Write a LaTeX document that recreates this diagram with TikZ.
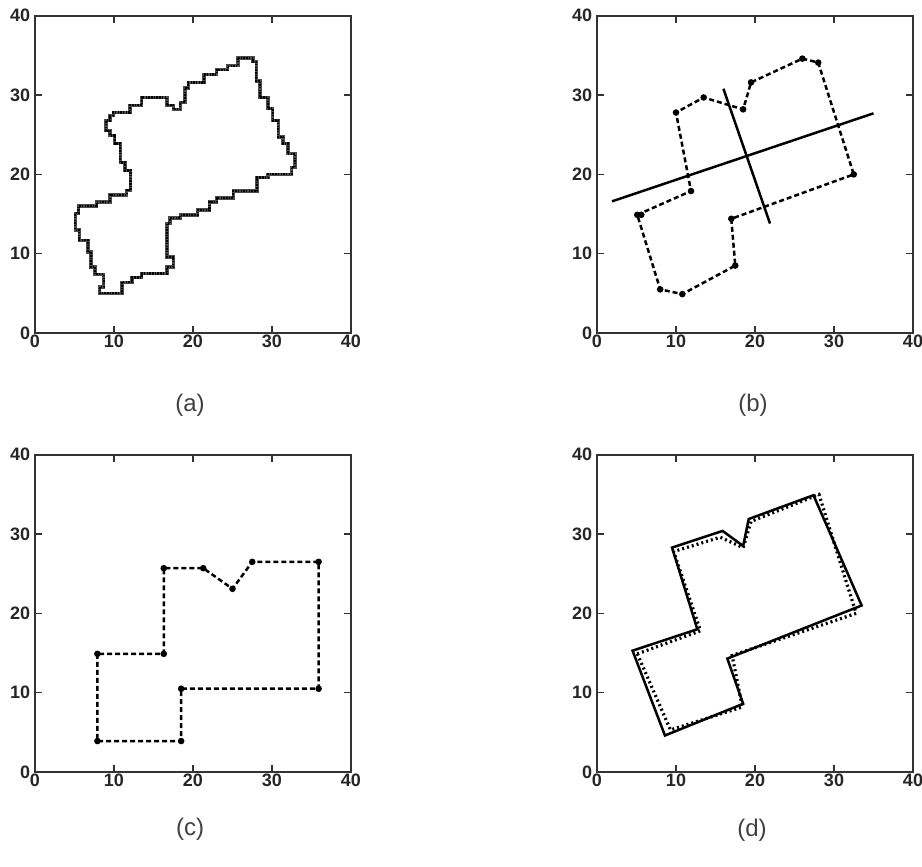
\documentclass[tikz,border=0pt]{standalone}
\usepackage{fontspec}
\setmainfont{Liberation Sans}

\begin{document}
\begin{tikzpicture}[
  x=1pt,y=1pt,
  frame/.style={line width=2pt,black!80},
  tick/.style={line width=1.6pt,black!80},
  ticklabel/.style={font=\fontsize{18}{18}\selectfont\bfseries,text=black!85,inner sep=1pt},
  caption/.style={font=\fontsize{24}{24}\selectfont,text=black!75},
  contour/.style={line width=3.4pt,black!70,line join=miter},
  contourdots/.style={line width=2.2pt,black,dash pattern=on 1.5pt off 1.2pt},
  poly/.style={line width=2.5pt,black,dash pattern=on 5pt off 3pt},
  fitline/.style={line width=2.5pt,black},
  outline/.style={line width=2.5pt,black,line join=miter},
  cornerdots/.style={line width=3.2pt,black,dash pattern=on 2pt off 3pt}
]
  \useasboundingbox (0,0) rectangle (922,867);

  % Axes boxes with inward ticks and bold tick labels.
  \foreach \nm/\px/\py in {a/35/534,b/597/534,c/35/95,d/597/95} {
    \begin{scope}[xshift=\px pt,yshift=\py pt,x=7.9pt,y=7.93pt]
      \draw[frame] (0,0) rectangle (40,40);
      \foreach \t in {10,20,30} {
        \draw[tick] (\t,0) -- ++(0,0.85) (\t,40) -- ++(0,-0.85);
        \draw[tick] (0,\t) -- ++(0.85,0) (40,\t) -- ++(-0.85,0);
      }
      \foreach \t in {0,10,20,30,40} {
        \node[ticklabel,anchor=north] (\nm-x\t) at (\t,-0.15) {\t};
        \node[ticklabel,anchor=east] (\nm-y\t) at (-0.45,\t) {\t};
      }
    \end{scope}
  }

  % (a) raw staircase contour.
  \begin{scope}[xshift=35pt,yshift=534pt,x=7.9pt,y=7.93pt]
    \def\stairs{(25.7,34.7) -- (27.6,34.7) -- (27.6,34.2) -- (28,34.2)
      -- (28,31.8) -- (28.5,31.8) -- (28.5,29.7) -- (29.5,29.7)
      -- (29.5,28.3) -- (30.1,28.3) -- (30.1,26.8) -- (30.8,26.8)
      -- (30.8,24.7) -- (31.4,24.7) -- (31.4,23.9) -- (32,23.9)
      -- (32,22.6) -- (32.9,22.6) -- (32.9,20.9) -- (32.5,20.9)
      -- (32.5,20) -- (29.5,20) -- (29.5,19.6) -- (28.1,19.6)
      -- (28.1,17.9) -- (25.1,17.9) -- (25.1,17) -- (23,17)
      -- (23,16.5) -- (22.1,16.5) -- (22.1,15.5) -- (20.6,15.5)
      -- (20.6,14.9) -- (18.4,14.9) -- (18.4,14.5) -- (17.1,14.5)
      -- (17.1,13.8) -- (16.7,13.8) -- (16.7,9.6) -- (17.5,9.6)
      -- (17.5,8.3) -- (16.7,8.3) -- (16.7,7.5) -- (13.5,7.5)
      -- (13.5,7) -- (12.3,7) -- (12.3,6.4) -- (11,6.4)
      -- (11,5) -- (8.2,5) -- (8.2,5.8) -- (8.7,5.8)
      -- (8.7,7.4) -- (7.6,7.4) -- (7.6,8.3) -- (7.1,8.3)
      -- (7.1,10.2) -- (6.7,10.2) -- (6.7,11.7) -- (5.6,11.7)
      -- (5.6,13) -- (5.1,13) -- (5.1,15.1) -- (5.5,15.1)
      -- (5.5,16) -- (7.8,16) -- (7.8,16.5) -- (9.5,16.5)
      -- (9.5,17.4) -- (11.6,17.4) -- (11.6,18) -- (12.1,18)
      -- (12.1,20.5) -- (11.4,20.5) -- (11.4,21.5) -- (10.8,21.5)
      -- (10.8,23.9) -- (10.1,23.9) -- (10.1,24.9) -- (9.5,24.9)
      -- (9.5,25.5) -- (9,25.5) -- (9,26.8) -- (9.5,26.8)
      -- (9.5,27.4) -- (9.9,27.4) -- (9.9,27.8) -- (12,27.8)
      -- (12,28.7) -- (13.5,28.7) -- (13.5,29.7) -- (16.7,29.7)
      -- (16.7,28.7) -- (17.5,28.7) -- (17.5,28.2) -- (18.4,28.2)
      -- (18.4,29.1) -- (19,29.1) -- (19,30.9) -- (19.4,30.9)
      -- (19.4,31.6) -- (21.4,31.6) -- (21.4,32.6) -- (23,32.6)
      -- (23,33.2) -- (24.4,33.2) -- (24.4,33.7) -- (25.7,33.7) -- cycle}
    \draw[contour] \stairs;
    \draw[contourdots] \stairs;
  \end{scope}

  % (b) polygon fit with its two principal axes.
  \begin{scope}[xshift=597pt,yshift=534pt,x=7.9pt,y=7.93pt]
    \draw[poly] (5.1,14.9) -- (11.9,17.9) -- (10,27.8) -- (13.5,29.7)
      -- (18.5,28.2) -- (19.5,31.6) -- (26,34.6) -- (28,34.1)
      -- (32.5,20) -- (17,14.4) -- (17.5,8.5) -- (10.8,4.9)
      -- (8,5.5) -- cycle;
    \foreach \p in {(5.1,14.9),(5.6,14.9),(11.9,17.9),(10,27.8),(13.5,29.7),
        (18.5,28.2),(19.5,31.6),(26,34.6),(28,34.1),(32.5,20),(17,14.4),
        (17.5,8.5),(10.8,4.9),(8,5.5)}
      \fill \p circle (3.3pt);
    \draw[fitline] (1.9,16.6) -- (35,27.7);
    \draw[fitline] (16,30.8) -- (21.9,13.8);
  \end{scope}

  % (c) rectilinear polygon.
  \begin{scope}[xshift=35pt,yshift=95pt,x=7.9pt,y=7.93pt]
    \draw[poly] (7.9,14.9) -- (7.9,3.9) -- (18.5,3.9) -- (18.5,10.5)
      -- (35.9,10.5) -- (35.9,26.5) -- (27.5,26.5) -- (25,23.1)
      -- (21.3,25.7) -- (16.3,25.7) -- (16.3,14.9) -- cycle;
    \foreach \p in {(7.9,14.9),(7.9,3.9),(18.5,3.9),(18.5,10.5),(35.9,10.5),
        (35.9,26.5),(27.5,26.5),(25,23.1),(21.3,25.7),(16.3,25.7),(16.3,14.9)}
      \fill \p circle (3.3pt);
  \end{scope}

  % (d) rotated result (solid) over the original corners (dotted).
  \begin{scope}[xshift=597pt,yshift=95pt,x=7.9pt,y=7.93pt]
    \draw[cornerdots] (5.1,14.9) -- (9.3,5.3) -- (18.4,8.2) -- (17.1,14.7)
      -- (32.8,20) -- (28.1,35) -- (19.5,31.6) -- (18.5,28.3)
      -- (15.6,29.6) -- (9.7,27.8) -- (13.1,17.8) -- cycle;
    \draw[outline] (4.5,15.3) -- (8.6,4.6) -- (18.5,8.6) -- (16.5,14.3)
      -- (33.5,21) -- (27.4,34.9) -- (19.2,31.9) -- (18.5,28.5)
      -- (15.9,30.4) -- (9.5,28.3) -- (12.7,18) -- cycle;
  \end{scope}

  % Captions.
  \node[caption] (capA) at (190,462) {(a)};
  \node[caption] (capB) at (753,462) {(b)};
  \node[caption] (capC) at (190,38) {(c)};
  \node[caption] (capD) at (752,37) {(d)};
\end{tikzpicture}
\end{document}
